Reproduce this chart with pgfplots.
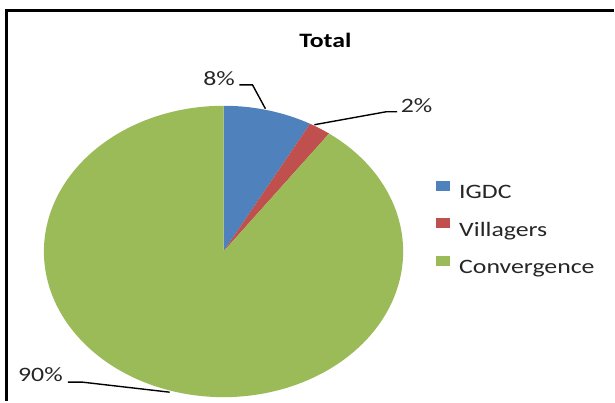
\documentclass[border=0pt]{standalone}
\usepackage{pgfplots}
\usepackage{pgfplotstable}
\pgfplotsset{compat=1.18}
\usepackage{fontspec}
\setmainfont[FakeStretch=1.26]{Carlito}
\definecolor{igdc}{HTML}{4F81BD}
\definecolor{vill}{HTML}{C0504D}
\definecolor{conv}{HTML}{9BBB59}
\definecolor{txt}{HTML}{262626}
\pgfplotstableread{
label value
IGDC 8
Villagers 2
Convergence 90
}\piedata
\pgfplotstablegetelem{0}{value}\of\piedata \let\vA\pgfplotsretval
\pgfplotstablegetelem{1}{value}\of\piedata \let\vB\pgfplotsretval
\pgfplotstablegetelem{2}{value}\of\piedata \let\vC\pgfplotsretval
\pgfmathsetmacro{\aA}{90-3.6*\vA}
\pgfmathsetmacro{\aB}{\aA-3.6*\vB}
\pgfmathsetmacro{\aC}{\aB-3.6*\vC}
\begin{document}
\fontsize{20.5bp}{24bp}\selectfont
\begin{tikzpicture}
\begin{axis}[
  scale only axis, width=615bp, height=402bp,
  xmin=0, xmax=615, ymin=0, ymax=402,
  hide axis, clip=false,
  legend style={at={(axis cs:437,221)}, anchor=north west, draw=none, fill=none,
    inner sep=0pt, row sep=19.5bp, column sep=9bp, cells={anchor=west},
    nodes={inner sep=0pt, text height=14bp, text depth=0pt, text=txt}},
  legend image code/.code={\fill[#1] (0bp,1bp) rectangle (14bp,11bp);},
]
% bounding box of the whole picture
\addplot[draw=none, forget plot] coordinates {(0,0) (615,402)};
% slices
\addplot[fill=igdc, draw=none, domain=\aA:90, samples=40, variable=\t]
  ({224+180*cos(\t)},{150+146*sin(\t)}) -- (axis cs:224,150) -- cycle;
\addlegendentry{IGDC}
\addplot[fill=vill, draw=none, domain=\aB:\aA, samples=15, variable=\t]
  ({224+180*cos(\t)},{150+146*sin(\t)}) -- (axis cs:224,150) -- cycle;
\addlegendentry{Villagers}
\addplot[fill=conv, draw=none, domain=\aC:\aB, samples=240, variable=\t]
  ({224+180*cos(\t)},{150+146*sin(\t)}) -- (axis cs:224,150) -- cycle;
\addlegendentry{Convergence}
% frame
\addplot[black, line width=2.6bp, forget plot] coordinates {(6.5,0) (6.5,391.5) (615,391.5)};
% leader lines
\addplot[black, line width=1.4bp, forget plot] coordinates {(240,317) (253,317) (266,293)};
\addplot[black, line width=1.4bp, forget plot] coordinates {(398,290) (387,290) (315,277)};
\addplot[black, line width=1.4bp, forget plot] coordinates {(68,19) (83,19) (170,9)};
% labels
\node[anchor=base, text=txt, inner sep=0pt] at (axis cs:219.5,316) {8\%};
\node[anchor=base, text=txt, inner sep=0pt] at (axis cs:417.5,289) {2\%};
\node[anchor=base, text=txt, inner sep=0pt] at (axis cs:40.5,20) {90\%};
\node[anchor=base, inner sep=0pt] at (axis cs:326,354) {\bfseries Total};
\end{axis}
\end{tikzpicture}
\end{document}
